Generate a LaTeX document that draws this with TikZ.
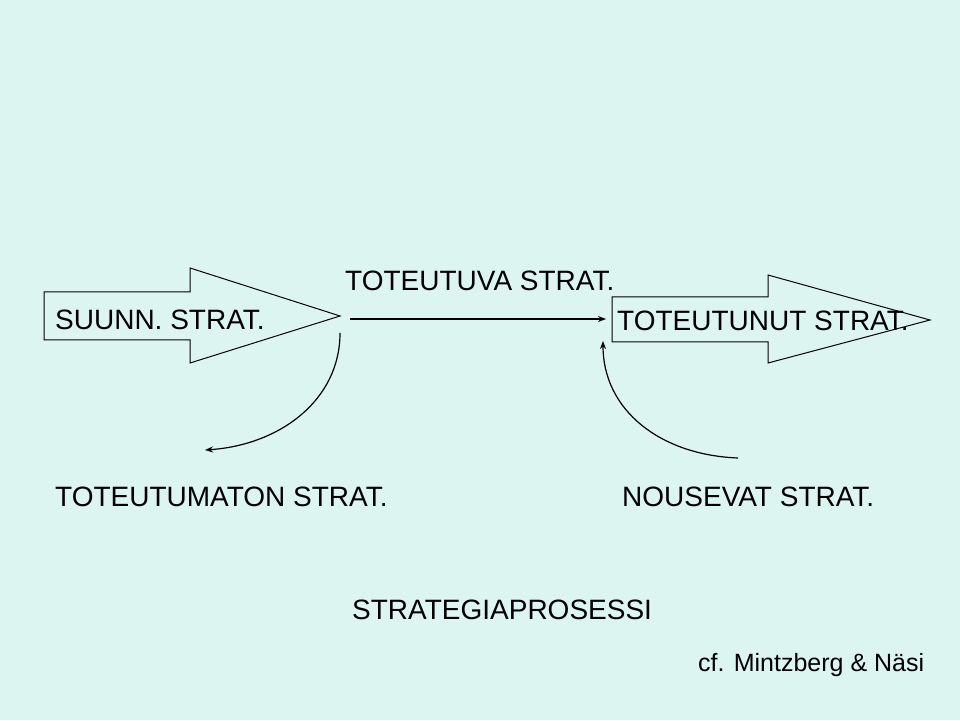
\documentclass[tikz,border=0pt]{standalone}
\usepackage{fontspec}
\setmainfont{Liberation Sans}
\usetikzlibrary{arrows.meta}
\definecolor{bg}{HTML}{DDF5F1}
\begin{document}
\begin{tikzpicture}[x=1pt,y=1pt,
  lbl/.style={anchor=west,inner sep=0pt,font=\fontsize{28}{30}\selectfont},
  bigarrow/.style={draw=black,line width=1pt},
  conn/.style={line width=1.2pt,-{Stealth[length=8pt,width=6pt]}}]
\fill[bg] (0,0) rectangle (960,720);
\useasboundingbox (0,0) rectangle (960,720);
\draw[bigarrow] (44,428) -- (190,428) -- (190,452) -- (340,404) -- (190,357) -- (190,380) -- (44,380) -- cycle;
\draw[bigarrow] (612,423) -- (768,423) -- (768,445) -- (930,400) -- (768,357) -- (768,378) -- (612,378) -- cycle;
\node[lbl] (suunn) at (55,400) {SUUNN. STRAT.};
\node[lbl] (toteutuva) at (345,439) {TOTEUTUVA STRAT.};
\node[lbl] (toteutunut) at (617,399) {TOTEUTUNUT STRAT.};
\node[lbl] (toteutumaton) at (55,223) {TOTEUTUMATON STRAT.};
\node[lbl] (nousevat) at (622,223) {NOUSEVAT STRAT.};
\node[lbl] (prosessi) at (352,110) {STRATEGIAPROSESSI};
\node[lbl,font=\fontsize{25}{27}\selectfont] (cf) at (698,55) {cf. Mintzberg \& Näsi};
\coordinate (a1) at (350,401);
\coordinate (a2) at (606,401);
\coordinate (c1) at (340,387);
\coordinate (c2) at (205,270);
\coordinate (d1) at (738,262);
\coordinate (d2) at (603,379);
\draw[conn] (a1) -- (a2);
\draw[conn] (c1) .. controls (340,320) and (280,275) .. (c2);
\draw[conn] (d1) .. controls (660,265) and (603,310) .. (d2);
\end{tikzpicture}
\end{document}
